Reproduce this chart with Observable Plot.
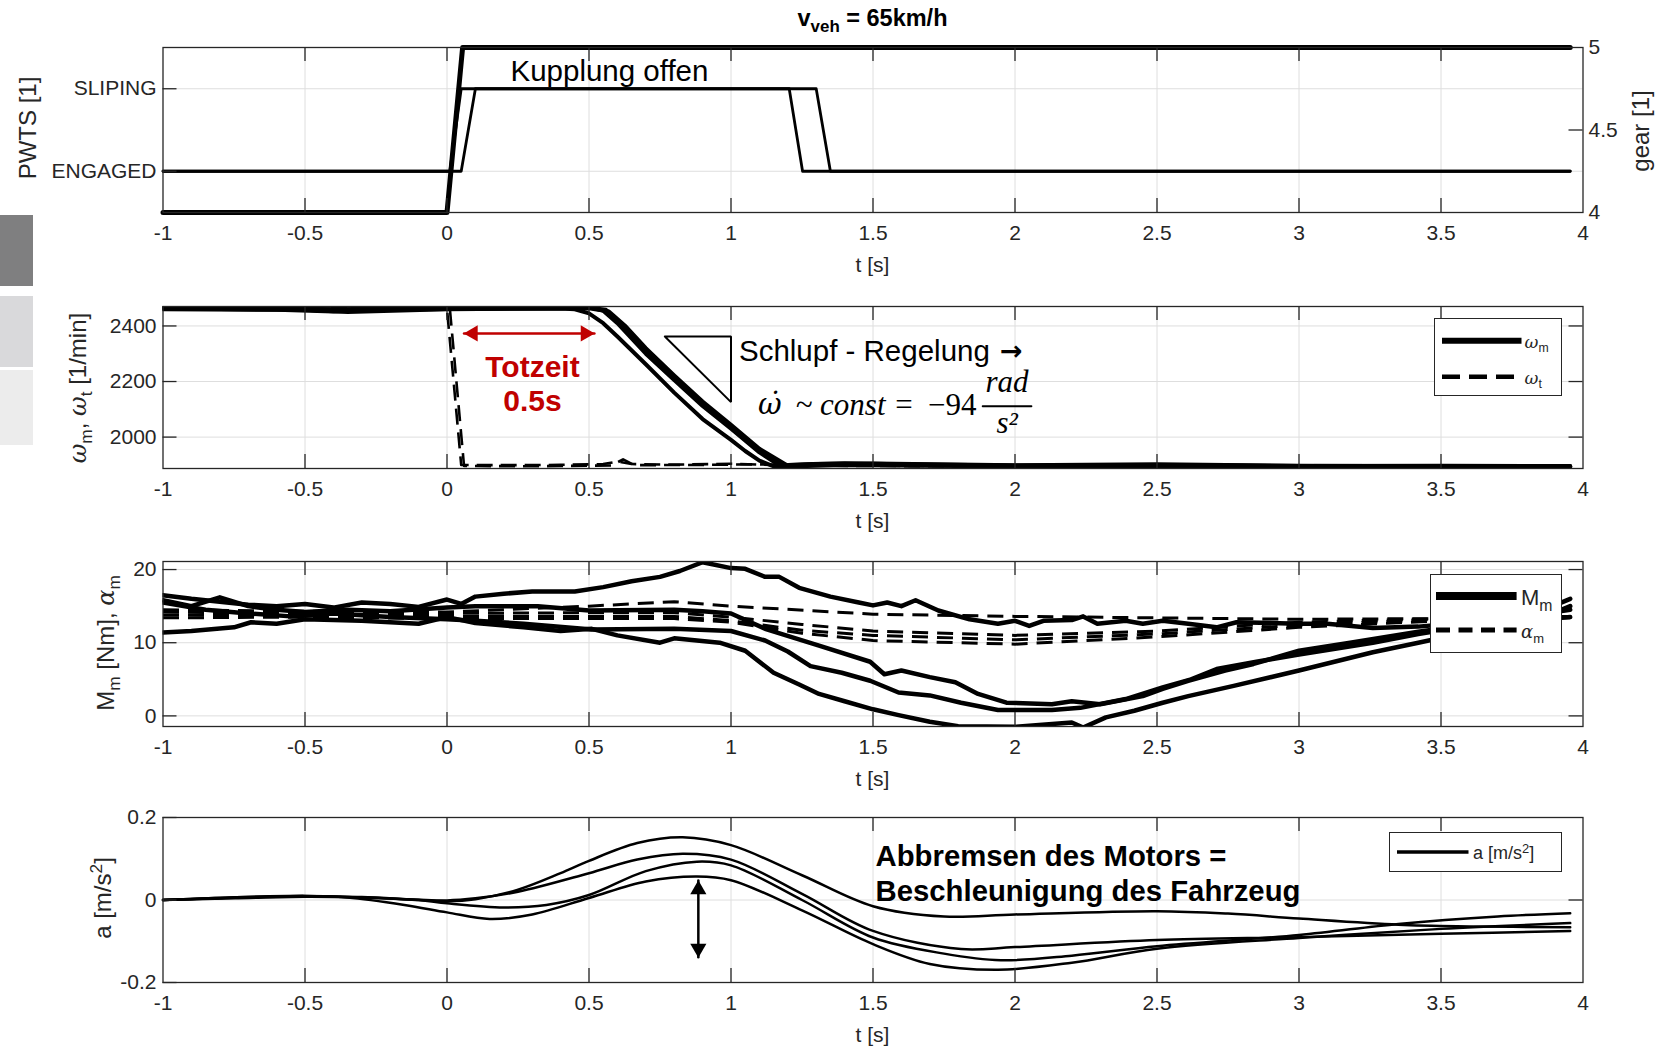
<!DOCTYPE html>
<html><head><meta charset="utf-8">
<script src="https://cdn.jsdelivr.net/npm/d3@7"></script>
<script src="https://cdn.jsdelivr.net/npm/@observablehq/plot@0.6"></script>
<style>
body{margin:0;background:#fff}
#root{position:relative;width:1659px;height:1049px;overflow:hidden;font-family:"Liberation Sans",Arial,sans-serif;color:#262626;background:#fff}
.ylab{position:absolute;white-space:nowrap;font-size:24px;transform:translate(-50%,-50%) rotate(-90deg);line-height:1}
.xlab{position:absolute;white-space:nowrap;font-size:21px;transform:translate(-50%,-50%);line-height:1}
.legend{position:absolute;background:#fff;border:1px solid #262626;box-sizing:border-box}
.ltxt{position:absolute;white-space:nowrap;line-height:1;transform:translateY(-50%)}
sub{font-size:0.72em;vertical-align:-0.35em;line-height:0}
sup{font-size:0.72em;vertical-align:0.5em;line-height:0}
.gr{font-family:"DejaVu Serif","Liberation Serif",serif;font-style:italic}
.box{position:absolute;left:0;width:33px}
</style></head>
<body><div id="root"></div>
<script>
// ---------- shared axis ticks ----------
const xTicks = [-1, -0.5, 0, 0.5, 1, 1.5, 2, 2.5, 3, 3.5, 4];

// ---------- panel 1: PWTS state & gear ----------
const pwtsCategories = ["ENGAGED", "SLIPING"];   // coded 1, 2
const gearTicks = [4, 4.5, 5];
const pwtsRun1 = [[-1, 1], [0.01, 1], [0.05, 2], [1.205, 2], [1.252, 1], [3.955, 1]];
const pwtsRun2 = [[-1, 1], [0.05, 1], [0.10, 2], [1.30, 2], [1.35, 1], [3.955, 1]];
const gearRun = [[-1, 4], [0, 4], [0.055, 5], [3.955, 5]];

// ---------- panel 2: speeds [1/min] ----------
const omegaTicks = [2000, 2200, 2400];
const omegaM1 = [[-1,2462],[-0.8,2461],[-0.6,2458],[-0.4,2452],[-0.2,2458],[0,2461],[0.2,2462],[0.4,2463],[0.45,2460],[0.5,2445],[0.55,2410],[0.6,2362],[0.7,2262],[0.8,2160],[0.9,2065],[1.0,1990],[1.05,1950],[1.1,1915],[1.15,1895],[1.2,1894],[1.4,1900],[1.6,1898],[2.0,1894],[2.5,1896],[3.0,1893],[3.5,1894],[3.955,1893]];
const omegaM2 = [[-1,2466],[-0.7,2464],[-0.4,2460],[0,2465],[0.3,2466],[0.5,2467],[0.55,2455],[0.6,2410],[0.7,2300],[0.8,2205],[0.9,2112],[1.0,2030],[1.1,1945],[1.17,1898],[1.25,1902],[1.4,1906],[1.6,1902],[2.0,1898],[2.5,1900],[3.0,1896],[3.5,1897],[3.955,1896]];
const omegaM3 = [[-1,2464],[-0.5,2462],[-0.3,2458],[0,2463],[0.5,2466],[0.56,2458],[0.62,2400],[0.7,2312],[0.8,2214],[0.9,2120],[1.0,2036],[1.1,1951],[1.19,1895],[1.3,1903],[1.5,1905],[2.0,1899],[2.5,1902],[3.0,1897],[3.5,1895],[3.955,1895]];
const omegaM4 = [[-1,2460],[-0.5,2458],[-0.35,2450],[0,2460],[0.5,2464],[0.57,2452],[0.63,2398],[0.7,2320],[0.8,2222],[0.9,2128],[1.0,2044],[1.1,1958],[1.2,1897],[1.35,1901],[1.6,1900],[2.0,1896],[2.5,1898],[3.0,1895],[3.5,1896],[3.955,1894]];
const omegaT1 = [[-1,2462],[0,2461],[0.05,1900],[0.2,1899],[0.4,1900],[0.55,1903],[0.6,1912],[0.65,1903],[0.8,1901],[1.0,1904],[1.2,1898],[1.5,1897],[2.0,1895],[2.5,1896],[3.0,1893],[3.5,1894],[3.955,1892]];
const omegaT2 = [[-1,2465],[0.01,2463],[0.06,1896],[0.3,1895],[0.5,1897],[0.58,1898],[0.62,1920],[0.66,1899],[0.9,1900],[1.1,1902],[1.3,1897],[2.0,1894],[2.5,1895],[3.0,1892],[3.5,1893],[3.955,1892]];

// ---------- panel 3: torque M_m and alpha_m ----------
const torqueTicks = [0, 10, 20];
const torqueM1 = [[-1,16.5],[-0.9,16.0],[-0.8,15.6],[-0.7,15.2],[-0.6,15.0],[-0.5,15.3],[-0.4,14.8],[-0.3,15.5],[-0.2,15.3],[-0.1,14.9],[0,15.9],[0.05,15.3],[0.1,16.3],[0.2,16.7],[0.3,17.0],[0.45,17.0],[0.55,17.6],[0.65,18.4],[0.75,19.0],[0.82,19.8],[0.9,21.0],[1.0,20.2],[1.05,20.1],[1.12,19.0],[1.17,19.0],[1.24,17.5],[1.35,16.3],[1.45,15.5],[1.5,15.1],[1.55,15.5],[1.6,15.0],[1.65,15.8],[1.73,14.4],[1.84,13.2],[1.94,12.6],[2.0,13.0],[2.05,12.3],[2.1,13.0],[2.2,13.1],[2.24,13.6],[2.29,12.6],[2.39,13.0],[2.45,12.6],[2.52,13.0],[2.61,12.6],[2.71,12.1],[2.78,12.8],[3.0,12.6],[3.1,12.6],[3.26,12.0],[3.42,12.2],[3.6,12.8],[3.8,13.6],[3.955,14.5]];
const torqueM2 = [[-1,15.8],[-0.9,15.0],[-0.8,16.2],[-0.7,15.0],[-0.6,14.5],[-0.5,14.2],[-0.35,14.5],[-0.2,14.3],[0,14.8],[0.1,15.0],[0.32,15.0],[0.5,14.4],[0.8,14.5],[0.9,14.3],[1.0,14.0],[1.12,11.9],[1.31,9.6],[1.49,7.4],[1.54,5.7],[1.6,6.2],[1.7,5.3],[1.79,4.6],[1.87,3.0],[1.97,1.8],[2.13,1.6],[2.2,2.0],[2.3,1.6],[2.45,2.7],[2.52,3.7],[2.61,4.8],[2.74,6.2],[2.84,7.1],[3.0,8.9],[3.18,10.0],[3.42,11.5],[3.6,12.5],[3.8,13.5],[3.955,16.0]];
const torqueM3 = [[-1,15.5],[-0.85,14.5],[-0.7,14.0],[-0.55,13.6],[-0.4,14.0],[-0.2,13.5],[0,13.2],[0.1,13.0],[0.27,12.6],[0.51,11.8],[0.8,11.9],[1.0,11.6],[1.12,10.3],[1.2,8.8],[1.28,6.8],[1.39,5.9],[1.49,4.8],[1.59,3.2],[1.7,2.8],[1.81,1.8],[1.94,0.8],[2.13,0.8],[2.23,1.1],[2.39,2.3],[2.52,3.9],[2.62,5.0],[2.71,6.4],[2.85,7.4],[3.0,8.4],[3.26,10.0],[3.42,11.2],[3.6,12.3],[3.8,13.0],[3.955,13.5]];
const torqueM4 = [[-1,11.4],[-0.9,11.6],[-0.75,12.1],[-0.69,12.8],[-0.6,12.6],[-0.5,13.2],[-0.3,13.0],[-0.1,12.6],[0,13.5],[0.1,12.7],[0.27,12.1],[0.4,11.6],[0.51,11.9],[0.6,11.0],[0.75,10.0],[0.8,10.6],[0.96,10.0],[1.05,8.9],[1.15,5.9],[1.24,4.3],[1.31,3.0],[1.4,2.0],[1.5,0.9],[1.59,0.1],[1.7,-0.8],[1.8,-1.4],[2.0,-1.5],[2.2,-0.9],[2.24,-1.6],[2.32,-0.2],[2.42,0.7],[2.52,1.8],[2.61,2.7],[2.77,4.1],[3.0,6.2],[3.26,8.7],[3.42,10.0],[3.6,11.5],[3.8,12.5],[3.955,15.0]];
const alphaM1 = [[-1,14.5],[-0.5,14.3],[0,14.2],[0.5,15.0],[0.8,15.6],[1.0,15.0],[1.5,13.9],[2.0,13.6],[2.5,13.4],[3.0,13.2],[3.5,13.3],[3.955,13.5]];
const alphaM2 = [[-1,14.2],[-0.5,14.0],[0,14.0],[0.5,14.1],[0.8,14.1],[1.0,13.5],[1.25,12.5],[1.5,11.6],[2.0,11.0],[2.5,11.6],[3.0,12.8],[3.5,13.3],[3.955,13.6]];
const alphaM3 = [[-1,13.8],[-0.5,13.7],[0,13.6],[0.5,13.6],[0.8,13.6],[1.0,13.0],[1.25,11.7],[1.5,11.0],[2.0,10.4],[2.5,11.2],[3.0,12.4],[3.5,13.2],[3.955,13.5]];
const alphaM4 = [[-1,13.4],[-0.5,13.5],[0,13.3],[0.5,13.3],[0.8,13.3],[1.0,12.8],[1.25,11.3],[1.5,10.3],[2.0,9.8],[2.5,10.8],[3.0,12.1],[3.5,13.0],[3.955,13.4]];

// ---------- panel 4: vehicle acceleration [m/s^2] ----------
const accelTicks = [-0.2, 0, 0.2];
const accelA = [[-1,0],[-0.75,0.004],[-0.5,0.008],[-0.3,0.006],[-0.1,0.0],[0,-0.003],[0.1,0.002],[0.25,0.025],[0.4,0.065],[0.5,0.095],[0.67,0.138],[0.83,0.152],[1.0,0.133],[1.25,0.06],[1.5,-0.015],[1.75,-0.04],[2.0,-0.035],[2.5,-0.027],[2.75,-0.033],[3.0,-0.045],[3.35,-0.06],[3.6,-0.064],[3.955,-0.066]];
const accelB = [[-1,0],[-0.5,0.009],[-0.3,0.007],[0,-0.001],[0.1,0.004],[0.25,0.02],[0.5,0.065],[0.67,0.098],[0.83,0.112],[1.0,0.098],[1.25,0.015],[1.5,-0.075],[1.81,-0.119],[2.0,-0.114],[2.5,-0.097],[3.0,-0.09],[3.5,-0.082],[3.955,-0.075]];
const accelC = [[-1,0],[-0.5,0.01],[-0.3,0.006],[-0.1,0.0],[0,-0.008],[0.2,-0.018],[0.35,-0.012],[0.5,0.012],[0.7,0.07],[0.88,0.093],[1.0,0.084],[1.25,0.0],[1.5,-0.091],[1.75,-0.13],[1.95,-0.146],[2.2,-0.135],[2.5,-0.112],[3.0,-0.085],[3.35,-0.058],[3.7,-0.04],[3.955,-0.032]];
const accelD = [[-1,0],[-0.5,0.01],[-0.35,0.006],[-0.15,-0.012],[0,-0.03],[0.15,-0.046],[0.3,-0.035],[0.5,0.005],[0.7,0.045],[0.88,0.057],[1.0,0.048],[1.25,-0.025],[1.5,-0.107],[1.7,-0.155],[1.94,-0.169],[2.2,-0.152],[2.5,-0.118],[3.0,-0.092],[3.5,-0.07],[3.955,-0.056]];

// ---------- annotations (data coordinates) ----------
const clutchNote = [{t: 0.572, v: 2.211, label: "Kupplung offen"}];
const deadTimeNote = [{t: 0.301, v: 2252, label: "Totzeit"}, {t: 0.301, v: 2128, label: "0.5s"}];
const deadTimeArrow = [{t: 0.06, v: 2373}, {t: 0.519, v: 2373}];
const slipNote = [{t: 1.028, v: 2308, label: "Schlupf - Regelung"}];
const slipArrow = [{t: 1.947, v: 2308, label: "\u2192"}];
const slipTriangle = [[0.767, 2362], [1.0, 2362], [1.0, 2126], [0.767, 2362]];
const formulaOmega = [{t: 1.095, v: 2117, label: "\u03C9\u0307"}];
const formulaLeft = [{t: 1.645, v: 2117, label: "~ const ="}];
const formulaNum = [{t: 1.8645, v: 2117, label: "\u221294"}];
const fracTop = [{t: 1.972, v: 2197, label: "rad"}];
const fracBottom = [{t: 1.972, v: 2049, label: "s\u00B2"}];
const fracBar = [{t: 1.886, v: 2111}, {t: 2.058, v: 2111}];
const brakeNote = [{t: 1.509, v: 0.105, label: "Abbremsen des Motors ="}, {t: 1.509, v: 0.02, label: "Beschleunigung des Fahrzeug"}];
const spreadArrow = [{t: 0.885, v: 0.047}, {t: 0.885, v: -0.139}];

// ---------- layout ----------
const root = document.getElementById("root");
const AX = "#262626", GRID = "#dedede";
const W = 1659, ML = 162.5, MR = 76.5, MT = 20, MB = 45, PW = W - ML - MR;
const innerX = xTicks.filter(d => d > -1 && d < 4);
const toRows = runs => runs.flatMap((run, i) => run.map(([t, v]) => ({t, v, run: i})));
const gearToY = g => 0.5 + (g - 4) * 2;
const yToGear = y => 4 + (y - 0.5) / 2;
const fmt = d => String(d);
const SERIF = "'Liberation Serif', serif";

function addDiv(html, cls, style) {
  const d = document.createElement("div");
  if (cls) d.className = cls;
  d.innerHTML = html;
  Object.assign(d.style, style);
  root.appendChild(d);
  return d;
}

// decorative slide tabs on the left
addDiv("", "box", {top: "215px", height: "71px", background: "#7f7f80"});
addDiv("", "box", {top: "296px", height: "71px", background: "#d9d9db"});
addDiv("", "box", {top: "370px", height: "75px", background: "#ececec"});

function panel({plotTop, plotH, yDomain, gridY, leftTicks, leftFormat, rightTicks, rightLabels, rightFormat, marks}) {
  const fig = Plot.plot({
    width: W, height: plotH + MT + MB,
    marginLeft: ML, marginRight: MR, marginTop: MT, marginBottom: MB,
    style: {fontFamily: "'Liberation Sans', Arial, sans-serif", fontSize: "21px", color: AX, background: "transparent", overflow: "visible"},
    x: {domain: [-1, 4]},
    y: {domain: yDomain},
    marks: [
      Plot.gridX({ticks: innerX, stroke: GRID, strokeOpacity: 1, strokeWidth: 1}),
      Plot.gridY({ticks: gridY, stroke: GRID, strokeOpacity: 1, strokeWidth: 1}),
      ...marks,
      Plot.ruleX(innerX, {x: d => d, insetTop: plotH - 14, stroke: AX, strokeWidth: 1.3}),
      Plot.ruleX(innerX, {x: d => d, insetBottom: plotH - 14, stroke: AX, strokeWidth: 1.3}),
      Plot.ruleY(leftTicks, {y: d => d, insetRight: PW - 14, stroke: AX, strokeWidth: 1.3}),
      Plot.ruleY(rightTicks, {y: d => d, insetLeft: PW - 14, stroke: AX, strokeWidth: 1.3}),
      Plot.frame({stroke: AX, strokeWidth: 1.3}),
      Plot.axisX({ticks: xTicks, tickSize: 0, tickPadding: 12.5, tickFormat: fmt, label: null}),
      Plot.axisY({ticks: leftTicks, anchor: "left", tickSize: 0, tickPadding: 6.5, tickFormat: leftFormat, label: null}),
      rightLabels ? Plot.axisY({ticks: rightLabels, anchor: "right", tickSize: 0, tickPadding: 5.5, tickFormat: rightFormat, label: null}) : null
    ]
  });
  fig.style.position = "absolute";
  fig.style.left = "0px";
  fig.style.top = (plotTop - MT) + "px";
  root.appendChild(fig);
  addDiv("t [s]", "xlab", {left: "872.5px", top: (plotTop + plotH + 52) + "px"});
}

// Panel 1
panel({
  plotTop: 46.7, plotH: 165, yDomain: [0.5, 2.5], gridY: [1, 2],
  leftTicks: [1, 2], leftFormat: d => pwtsCategories[d - 1],
  rightTicks: [gearToY(4.5)], rightLabels: gearTicks.map(gearToY), rightFormat: y => String(yToGear(y)),
  marks: [
    Plot.line(toRows([pwtsRun1, pwtsRun2]), {x: "t", y: "v", z: "run", stroke: "#000", strokeWidth: 2.8}),
    Plot.line(gearRun, {x: d => d[0], y: d => gearToY(d[1]), stroke: "#000", strokeWidth: 5}),
    Plot.text(clutchNote, {x: "t", y: "v", text: "label", fontSize: 29.5, fill: "#000"})
  ]
});

// Panel 2
panel({
  plotTop: 306, plotH: 162, yDomain: [1887, 2470], gridY: omegaTicks,
  leftTicks: omegaTicks, leftFormat: fmt, rightTicks: omegaTicks,
  marks: [
    Plot.line(toRows([omegaT1, omegaT2]), {x: "t", y: "v", z: "run", stroke: "#000", strokeWidth: 2.6, strokeDasharray: "16,8", strokeLinecap: "butt", clip: true}),
    Plot.line(toRows([omegaM1, omegaM2, omegaM3, omegaM4]), {x: "t", y: "v", z: "run", stroke: "#000", strokeWidth: 4, clip: true}),
    Plot.line(slipTriangle, {x: d => d[0], y: d => d[1], stroke: "#000", strokeWidth: 2, strokeLinejoin: "miter"}),
    Plot.line(deadTimeArrow, {x: "t", y: "v", stroke: "#c00000", strokeWidth: 2.5}),
    Plot.dot([deadTimeArrow[0]], {x: "t", y: "v", symbol: "triangle", r: 6, rotate: -90, dx: 9, fill: "#c00000", stroke: null}),
    Plot.dot([deadTimeArrow[1]], {x: "t", y: "v", symbol: "triangle", r: 6, rotate: 90, dx: -9, fill: "#c00000", stroke: null}),
    Plot.text(deadTimeNote, {x: "t", y: "v", text: "label", fontSize: 30, fontWeight: "bold", fill: "#c00000"}),
    Plot.text(slipNote, {x: "t", y: "v", text: "label", fontSize: 29.5, textAnchor: "start", fill: "#000"}),
    Plot.text(slipArrow, {x: "t", y: "v", text: "label", fontSize: 27, fontWeight: "bold", fontFamily: "'DejaVu Sans', sans-serif", textAnchor: "start", fill: "#000"}),
    Plot.text(formulaOmega, {x: "t", y: "v", text: "label", fontSize: 29, fontStyle: "italic", fontFamily: "'DejaVu Serif', serif", textAnchor: "start", fill: "#000"}),
    Plot.text(formulaLeft, {x: "t", y: "v", text: "label", fontSize: 31, fontStyle: "italic", fontFamily: SERIF, textAnchor: "end", fill: "#000"}),
    Plot.text(formulaNum, {x: "t", y: "v", text: "label", fontSize: 31, fontFamily: SERIF, textAnchor: "end", fill: "#000"}),
    Plot.text(fracTop, {x: "t", y: "v", text: "label", fontSize: 31, fontStyle: "italic", fontFamily: SERIF, fill: "#000"}),
    Plot.text(fracBottom, {x: "t", y: "v", text: "label", fontSize: 31, fontStyle: "italic", fontFamily: SERIF, fill: "#000"}),
    Plot.line(fracBar, {x: "t", y: "v", stroke: "#000", strokeWidth: 1.8})
  ]
});

// Panel 3
panel({
  plotTop: 561, plotH: 165, yDomain: [-1.45, 21.1], gridY: torqueTicks,
  leftTicks: torqueTicks, leftFormat: fmt, rightTicks: torqueTicks,
  marks: [
    Plot.line(toRows([alphaM1, alphaM2, alphaM3, alphaM4]), {x: "t", y: "v", z: "run", stroke: "#000", strokeWidth: 3, strokeDasharray: "16,9", strokeLinecap: "butt", clip: true}),
    Plot.line(toRows([torqueM1, torqueM2, torqueM3, torqueM4]), {x: "t", y: "v", z: "run", stroke: "#000", strokeWidth: 4.5, clip: true})
  ]
});

// Panel 4
panel({
  plotTop: 817, plotH: 165, yDomain: [-0.2, 0.2], gridY: [0],
  leftTicks: accelTicks, leftFormat: fmt, rightTicks: [0],
  marks: [
    Plot.line(toRows([accelA, accelB, accelC, accelD]), {x: "t", y: "v", z: "run", stroke: "#000", strokeWidth: 2.5, curve: "catmull-rom"}),
    Plot.line(spreadArrow, {x: "t", y: "v", stroke: "#000", strokeWidth: 2.5}),
    Plot.dot([spreadArrow[0]], {x: "t", y: "v", symbol: "triangle", r: 6, rotate: 0, dy: 9, fill: "#000", stroke: null}),
    Plot.dot([spreadArrow[1]], {x: "t", y: "v", symbol: "triangle", r: 6, rotate: 180, dy: -9, fill: "#000", stroke: null}),
    Plot.text(brakeNote, {x: "t", y: "v", text: "label", fontSize: 29.3, fontWeight: "bold", textAnchor: "start", fill: "#000"})
  ]
});

// title & axis labels
addDiv("v<sub>veh</sub> = 65km/h", "", {position: "absolute", left: "872.5px", top: "19px", transform: "translate(-50%,-50%)", fontSize: "23.5px", fontWeight: "bold", whiteSpace: "nowrap", lineHeight: "1", color: "#000"});
addDiv("PWTS [1]", "ylab", {left: "28px", top: "128px"});
addDiv("gear [1]", "ylab", {left: "1641px", top: "131px"});
addDiv('<span class="gr">\u03C9</span><sub>m</sub>, <span class="gr">\u03C9</span><sub>t</sub> [1/min]', "ylab", {left: "78px", top: "388px"});
addDiv('M<sub>m</sub> [Nm], <span class="gr">\u03B1</span><sub>m</sub>', "ylab", {left: "106px", top: "643px"});
addDiv('a [m/s<sup>2</sup>]', "ylab", {left: "103px", top: "898px"});

// legends
function legend(left, top, w, h, rows) {
  const box = addDiv("", "legend", {left: left + "px", top: top + "px", width: w + "px", height: h + "px"});
  const ns = "http://www.w3.org/2000/svg";
  const svg = document.createElementNS(ns, "svg");
  svg.setAttribute("width", w); svg.setAttribute("height", h);
  svg.style.position = "absolute"; svg.style.left = "-1px"; svg.style.top = "-1px";
  box.appendChild(svg);
  for (const r of rows) {
    const ln = document.createElementNS(ns, "line");
    ln.setAttribute("x1", r.x1); ln.setAttribute("x2", r.x2);
    ln.setAttribute("y1", r.y); ln.setAttribute("y2", r.y);
    ln.setAttribute("stroke", "#000"); ln.setAttribute("stroke-width", r.sw);
    if (r.dash) ln.setAttribute("stroke-dasharray", r.dash);
    svg.appendChild(ln);
    const t = document.createElement("div");
    t.className = "ltxt";
    t.innerHTML = r.html;
    Object.assign(t.style, {left: (r.tx - 1) + "px", top: (r.ty - 1) + "px", fontSize: r.fs + "px"});
    box.appendChild(t);
  }
}
legend(1433.5, 318, 128.5, 78, [
  {x1: 8, x2: 87.5, y: 22.7, sw: 6, html: '<span class="gr">\u03C9</span><sub>m</sub>', tx: 91, ty: 24, fs: 17},
  {x1: 8, x2: 87.5, y: 58.7, sw: 4.5, dash: "18,9", html: '<span class="gr">\u03C9</span><sub>t</sub>', tx: 91, ty: 60, fs: 17}
]);
legend(1430, 574, 132, 79, [
  {x1: 6, x2: 86.6, y: 22, sw: 8, html: 'M<sub>m</sub>', tx: 91, ty: 24, fs: 22},
  {x1: 6, x2: 86.6, y: 56, sw: 5, dash: "14,8.5", html: '<span class="gr">\u03B1</span><sub>m</sub>', tx: 91, ty: 58, fs: 18},
]);
legend(1388.5, 831.7, 173.5, 40, [
  {x1: 8, x2: 79.5, y: 20, sw: 3.3, html: 'a [m/s<sup>2</sup>]', tx: 84.5, ty: 21, fs: 18}
]);
</script>
</body></html>
